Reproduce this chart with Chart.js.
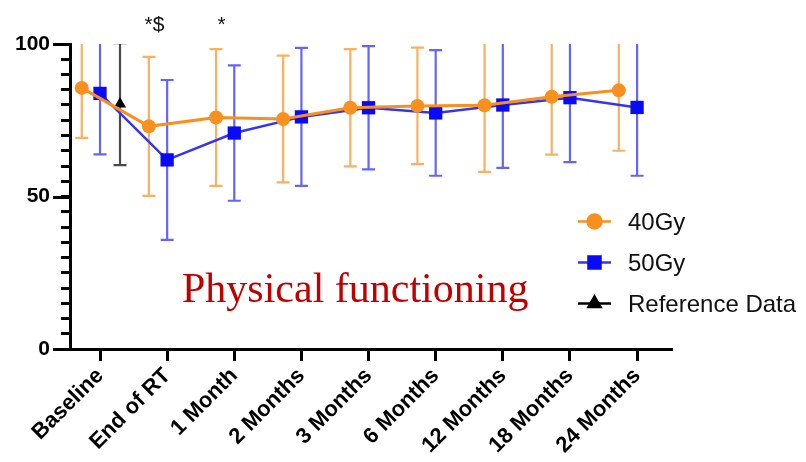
<!DOCTYPE html>
<html>
<head>
<meta charset="utf-8">
<script src="https://cdn.jsdelivr.net/npm/chart.js@4.4.1/dist/chart.umd.min.js"></script>
<style>
html,body{margin:0;padding:0;background:#fff;}
#wrap{width:806px;height:462px;position:relative;}
</style>
</head>
<body>
<div id="wrap"><canvas id="c" width="806" height="462"></canvas></div>
<script>
// ---- data ----
const categories = ['Baseline','End of RT','1 Month','2 Months','3 Months','6 Months','12 Months','18 Months','24 Months'];
const mean40 = [85.6, 73.0, 75.9, 75.4, 79.1, 79.7, 79.9, 82.7, 84.8];
const sd40   = [16.4, 22.8, 22.4, 20.8, 19.2, 19.1, 21.8, 19.0, 19.8];
const mean50 = [83.8, 62.0, 70.8, 76.1, 79.1, 77.4, 80.0, 82.4, 79.2];
const sd50   = [20.0, 26.2, 22.2, 22.6, 20.2, 20.6, 20.6, 21.1, 22.4];
const refMean = [80.3];
const refSd   = [20.0];
const yTickLabels = [0, 50, 100];
const annotationCats  = [1, 2];
const annotationTexts = ['*$', '*'];
const titleText = 'Physical functioning';

// ---- styling / layout ----
const ORANGE = '#F7901E', ORANGE_BAR = 'rgba(248,150,40,0.75)';
const BLUE = '#0A0AF5', BLUE_LINE = '#3535F0', BLUE_BAR = 'rgba(40,40,250,0.72)';
const BLACK = '#000000', GREY_BAR = '#4a4a4a';
const OFF40 = -0.272, OFF50 = 0, OFFREF = 0.298;
const SANS = '"Liberation Sans", Arial, Helvetica, sans-serif';

function pts(means, off) { return means.map((v, i) => ({x: i + off, y: v})); }

const decor = {
  id: 'decor',
  beforeDatasetsDraw(chart) {
    const {ctx, chartArea: a, scales: {x, y}} = chart;
    ctx.save();
    ctx.beginPath(); ctx.rect(a.left, a.top, a.right - a.left, a.bottom - a.top); ctx.clip();
    chart.data.datasets.forEach(ds => {
      ctx.strokeStyle = ds.errColor; ctx.lineWidth = 2.2;
      ds.data.forEach((p, i) => {
        const px = x.getPixelForValue(p.x);
        const t = y.getPixelForValue(p.y + ds.sd[i]);
        const b = y.getPixelForValue(p.y - ds.sd[i]);
        ctx.beginPath();
        ctx.moveTo(px, t); ctx.lineTo(px, b);
        ctx.moveTo(px - 6.5, t); ctx.lineTo(px + 6.5, t);
        ctx.moveTo(px - 6.5, b); ctx.lineTo(px + 6.5, b);
        ctx.stroke();
      });
    });
    ctx.restore();
  },
  afterDraw(chart) {
    const {ctx, chartArea: a, scales: {x, y}} = chart;
    ctx.save();
    // longer major ticks on the y axis
    ctx.strokeStyle = '#000'; ctx.lineWidth = 3;
    yTickLabels.forEach(v => {
      const py = Math.round(y.getPixelForValue(v)) + 0.5;
      ctx.beginPath(); ctx.moveTo(a.left - 17, py); ctx.lineTo(a.left, py); ctx.stroke();
    });
    // significance annotations
    ctx.fillStyle = '#111'; ctx.font = '21px ' + SANS; ctx.textAlign = 'center'; ctx.textBaseline = 'alphabetic';
    annotationCats.forEach((c, i) => {
      ctx.fillText(annotationTexts[i], x.getPixelForValue(c - 0.19), 31);
    });
    // title inside the plot
    ctx.fillStyle = '#C00000'; ctx.font = '42px "Liberation Serif", "Times New Roman", serif'; ctx.textAlign = 'left';
    ctx.fillText(titleText, 182, 302);
    // legend
    chart.data.datasets.forEach((ds, i) => {
      const ly = 221.5 + 41 * i;
      ctx.strokeStyle = ds.legendLine; ctx.lineWidth = 2.5;
      ctx.beginPath(); ctx.moveTo(578, ly); ctx.lineTo(611, ly); ctx.stroke();
      ctx.fillStyle = ds.backgroundColor; ctx.strokeStyle = ds.backgroundColor;
      Chart.helpers.drawPoint(ctx, {pointStyle: ds.pointStyle, radius: ds.legendRadius, rotation: 0, borderWidth: 1}, 594.5, ly);
      ctx.fill();
      ctx.fillStyle = '#111'; ctx.font = '24px ' + SANS; ctx.textAlign = 'left';
      ctx.fillText(ds.label, 628, ly + 8.5);
    });
    ctx.restore();
  }
};

new Chart(document.getElementById('c'), {
  type: 'line',
  data: {
    datasets: [
      {label: '40Gy', data: pts(mean40, OFF40), sd: sd40, errColor: ORANGE_BAR, legendLine: ORANGE,
       borderColor: ORANGE, backgroundColor: ORANGE, borderWidth: 3, pointStyle: 'circle', pointRadius: 7,
       pointBorderWidth: 0, legendRadius: 7},
      {label: '50Gy', data: pts(mean50, OFF50), sd: sd50, errColor: BLUE_BAR, legendLine: BLUE_LINE,
       borderColor: BLUE_LINE, backgroundColor: BLUE, borderWidth: 2.5, pointStyle: 'rect', pointRadius: 9.4,
       pointBorderWidth: 0, legendRadius: 8.5},
      {label: 'Reference Data', data: pts(refMean, OFFREF), sd: refSd, errColor: GREY_BAR, legendLine: BLACK,
       borderColor: BLACK, backgroundColor: BLACK, borderWidth: 2, pointStyle: 'triangle', pointRadius: 7,
       pointBorderWidth: 0, legendRadius: 7}
    ]
  },
  options: {
    responsive: false,
    animation: false,
    devicePixelRatio: 1,
    layout: {padding: {top: 44, right: 134, left: 0, bottom: 0}},
    plugins: {legend: {display: false}, tooltip: {enabled: false}},
    elements: {line: {tension: 0}},
    scales: {
      x: {
        type: 'linear', min: -0.447, max: 8.52,
        afterBuildTicks: s => { s.ticks = categories.map((c, i) => ({value: i})); },
        afterFit: s => { s.height = 113; },
        grid: {drawOnChartArea: false, drawTicks: true, tickLength: 12, tickWidth: 3, tickColor: '#000'},
        border: {display: true, width: 3, color: '#000'},
        ticks: {
          autoSkip: false, maxRotation: 45, minRotation: 45, padding: 2, color: '#000',
          font: {family: SANS, size: 22, weight: 'bold'},
          callback: v => categories[Math.round(v)] ?? ''
        }
      },
      y: {
        min: 0, max: 100,
        afterFit: s => { s.width = 70; },
        grid: {drawOnChartArea: false, drawTicks: true, tickLength: 9, tickWidth: 3, tickColor: '#000'},
        border: {display: true, width: 3, color: '#000'},
        ticks: {
          stepSize: 5, autoSkip: false, padding: 11, color: '#000',
          font: {family: SANS, size: 21, weight: 'bold'},
          callback: v => yTickLabels.includes(v) ? String(v) : ''
        }
      }
    }
  },
  plugins: [decor]
});
</script>
</body>
</html>
